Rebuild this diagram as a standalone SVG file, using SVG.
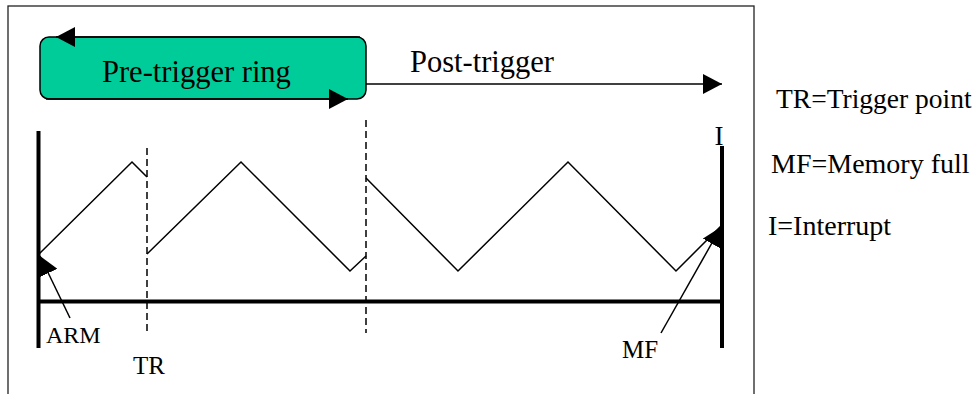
<svg xmlns="http://www.w3.org/2000/svg" width="979" height="394" viewBox="0 0 979 394">
  <defs>
    <marker id="ah" markerUnits="userSpaceOnUse" markerWidth="20" markerHeight="20" refX="19" refY="10" orient="auto">
      <path d="M0,0 L19,10 L0,20 z" fill="#000"/>
    </marker>
    <style>
      .thin { stroke: #000; stroke-width: 1.5; fill: none; }
      .thick { stroke: #000; stroke-width: 4; fill: none; }
      .dash { stroke: #000; stroke-width: 1.5; stroke-dasharray: 7 4; fill: none; }
    </style>
  </defs>
  <rect width="979" height="394" fill="#fff"/>
  <g id="frame">
    <rect x="8" y="6" width="746" height="400" fill="none" stroke="#222" stroke-width="1.3"/>
  </g>
  <g font-family="'Liberation Serif', 'DejaVu Serif', serif" fill="#000">
  <g id="pretrigger">
    <rect x="40" y="37" width="326" height="62" rx="9" ry="9" fill="#00CC99" stroke="#000" stroke-width="1.5"/>
    <text x="102" y="82" font-size="30.5">Pre-trigger ring</text>
  </g>
  <g id="posttrigger">
    <text x="410" y="72" font-size="30.5">Post-trigger</text>
  </g>
  <g id="labels">
    <text x="46" y="343" font-size="24">ARM</text>
    <text x="133" y="374" font-size="25">TR</text>
    <text x="622" y="358" font-size="25">MF</text>
    <text x="719" y="145" font-size="27" text-anchor="middle">I</text>
  </g>
  <g id="legend">
    <text x="776" y="108" font-size="27.5">TR=Trigger point</text>
    <text x="771" y="173" font-size="28">MF=Memory full</text>
    <text x="768" y="235" font-size="28">I=Interrupt</text>
  </g>
  </g>
  <g id="axes">
    <line class="thick" x1="38.5" y1="131" x2="38.5" y2="348"/>
    <line class="thick" x1="38" y1="301.5" x2="722" y2="301.5"/>
    <line class="thick" x1="722" y1="146" x2="722" y2="348"/>
  </g>
  <g id="waveform">
    <polyline class="thin" points="39,254 132,162 147,177"/>
    <polyline class="thin" points="147,254 241,162 350,271 366,256"/>
    <polyline class="thin" points="366,178 458,271 568,162 676,271 722,225"/>
  </g>
  <g id="markers">
    <line class="dash" x1="147" y1="148" x2="147" y2="333"/>
    <line class="dash" x1="366" y1="120" x2="366" y2="333"/>
  </g>
  <g id="connectors">
    <line class="thin" x1="360" y1="37" x2="56" y2="37" marker-end="url(#ah)"/>
    <line class="thin" x1="46" y1="99" x2="348" y2="99" marker-end="url(#ah)"/>
    <line class="thin" x1="366" y1="84" x2="722" y2="84" marker-end="url(#ah)"/>
    <line class="thin" x1="70" y1="318" x2="40" y2="256" marker-end="url(#ah)"/>
    <line class="thin" x1="661" y1="333" x2="721" y2="227" marker-end="url(#ah)"/>
  </g>
</svg>
